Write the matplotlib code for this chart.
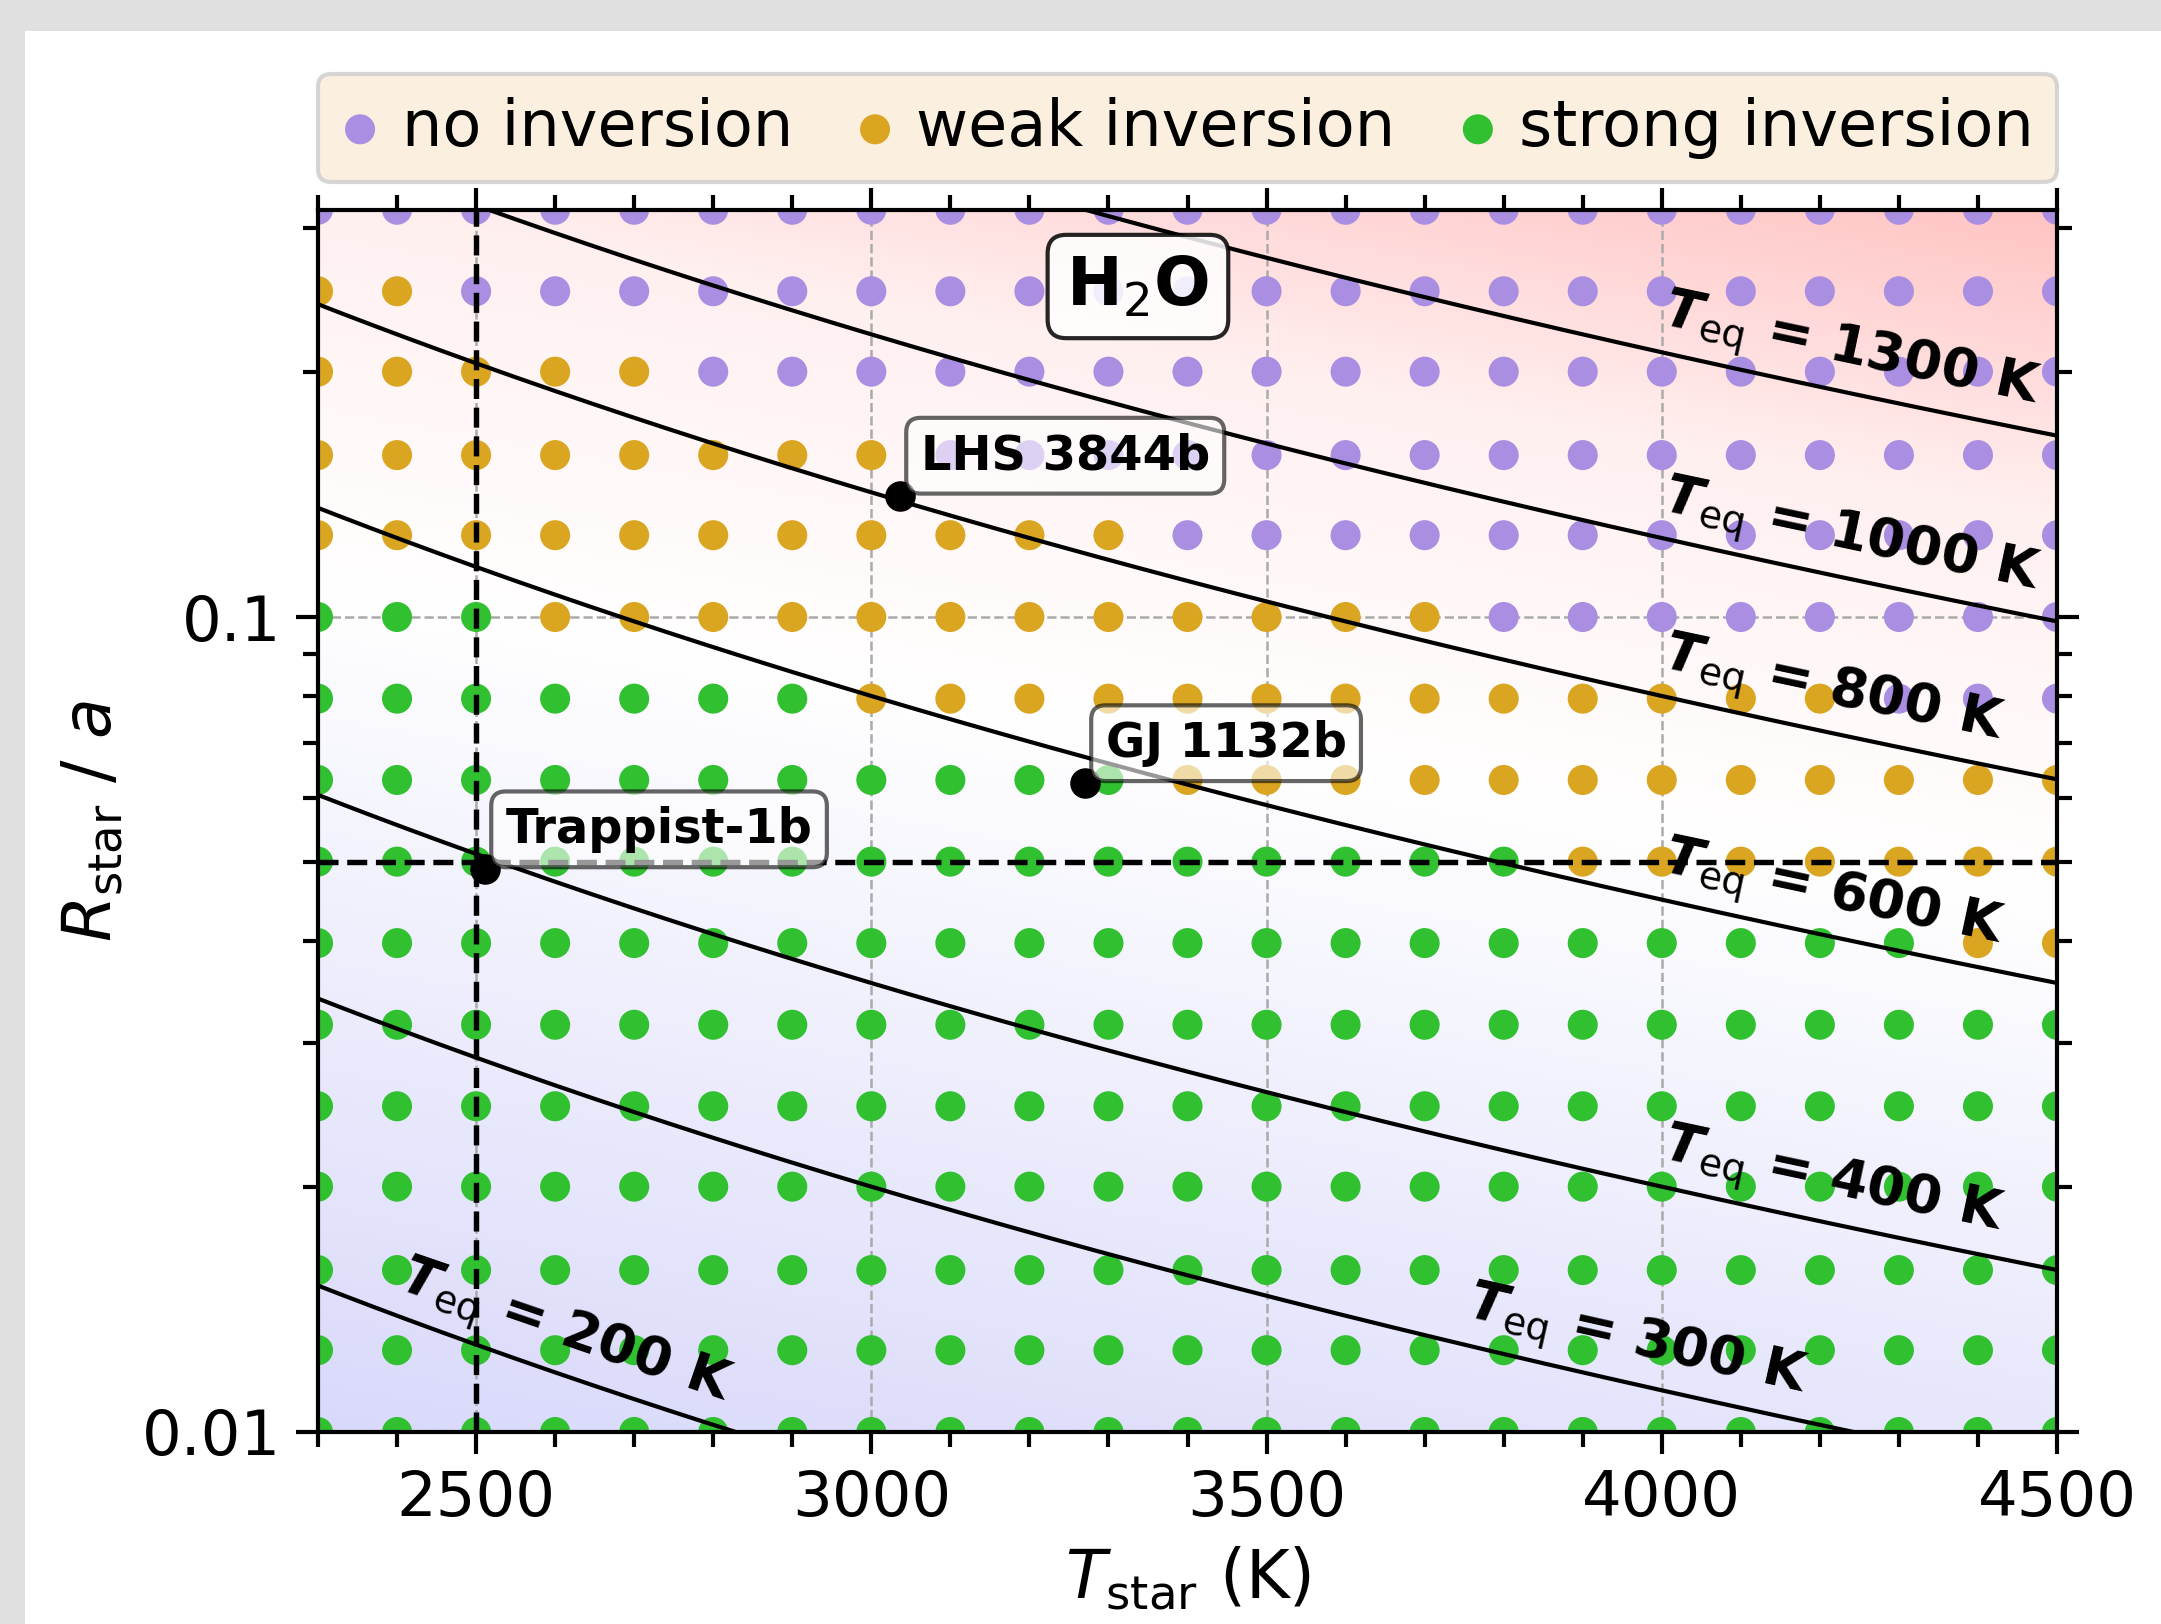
import numpy as np
import matplotlib.pyplot as plt
from matplotlib.colors import LinearSegmentedColormap
from matplotlib.patches import Rectangle
from matplotlib.ticker import MultipleLocator, LogLocator, FuncFormatter, NullFormatter

# grid of models
t_star = [2300, 2400, 2500, 2600, 2700, 2800, 2900, 3000, 3100, 3200, 3300, 3400,
          3500, 3600, 3700, 3800, 3900, 4000, 4100, 4200, 4300, 4400, 4500]
r_over_a = [0.01, 0.0126, 0.0158, 0.02, 0.0251, 0.0316, 0.0398, 0.0501,
            0.0631, 0.0794, 0.1, 0.126, 0.158, 0.2, 0.251, 0.316]

# n = no inversion, w = weak inversion, s = strong inversion (one string per R/a row, bottom to top)
regime = [
    "sssssssssssssssssssssss",
    "sssssssssssssssssssssss",
    "sssssssssssssssssssssss",
    "sssssssssssssssssssssss",
    "sssssssssssssssssssssss",
    "sssssssssssssssssssssss",
    "sssssssssssssssssssssww",
    "sssssssssssssssswwwwwww",
    "ssssssssssswwwwwwwwwwww",
    "ssssssswwwwwwwwwwwwwnnn",
    "ssswwwwwwwwwwwwnnnnnnnn",
    "wwwwwwwwwwwnnnnnnnnnnnn",
    "wwwwwwwwnnnnnnnnnnnnnnn",
    "wwwwwnnnnnnnnnnnnnnnnnn",
    "wwnnnnnnnnnnnnnnnnnnnnn",
    "nnnnnnnnnnnnnnnnnnnnnnn",
]

planet_names = ["Trappist-1b", "LHS 3844b", "GJ 1132b"]
planet_t = [2511, 3036, 3270]
planet_ra = [0.049, 0.1408, 0.0625]

teq_levels = [200, 300, 400, 600, 800, 1000, 1300]
teq_label_t = [2612, 3968, 4216, 4216, 4216, 4240, 4240]

styles = {
    "n": ("#a98ee1", "no inversion"),
    "w": ("#daa520", "weak inversion"),
    "s": ("#30c030", "strong inversion"),
}

W, H = 2161, 1624
fig = plt.figure(figsize=(W / 300, H / 300), dpi=300)
fig.patch.set_facecolor("#e0e0e0")
fig.add_artist(Rectangle((25 / W, 0), 1, 1 - 31 / H, transform=fig.transFigure,
                         facecolor="white", edgecolor="none", zorder=-10))

ax = fig.add_axes([318 / W, 1 - 1432 / H, (2057 - 318) / W, (1432 - 209.5) / H])
ax.set_yscale("log")

# background gradient
xx, yy = np.meshgrid(np.linspace(0, 1, 300), np.linspace(0, 1, 300))
v = 0.256 * xx + yy
cmap = LinearSegmentedColormap.from_list(
    "bg", [(0, "#d9d9fb"), (0.55, "#ffffff"), (0.8, "#fff0f0"), (1, "#ffc4c4")])
ax.imshow(v, extent=(0, 1, 0, 1), transform=ax.transAxes, origin="lower",
          cmap=cmap, vmin=0, vmax=1.256, aspect="auto", zorder=0, interpolation="bilinear")

# classification dots
for key in ["n", "w", "s"]:
    xs, ys = [], []
    for j, row in enumerate(regime):
        for i, c in enumerate(row):
            if c == key:
                xs.append(t_star[i])
                ys.append(r_over_a[j])
    ax.scatter(xs, ys, s=52, color=styles[key][0], edgecolors="none",
               label=styles[key][1], zorder=3)

ax.set_xlim(2300, 4500)
ax.set_ylim(0.01, 10 ** -0.5)

# equilibrium temperature curves
tt = np.linspace(2200, 4600, 400)
for lev, tl in zip(teq_levels, teq_label_t):
    ax.plot(tt, 2 * (lev / tt) ** 2, color="k", lw=1.0, zorder=4)
    yl = 2 * (lev / tl) ** 2
    p1 = ax.transData.transform((tl - 20, 2 * (lev / (tl - 20)) ** 2))
    p2 = ax.transData.transform((tl + 20, 2 * (lev / (tl + 20)) ** 2))
    ang = np.degrees(np.arctan2(p2[1] - p1[1], p2[0] - p1[0]))
    ax.annotate(r"$\mathbfit{T}_{\rm eq}$ = %d K" % lev, xy=(tl, yl), xytext=(0, 9.8),
                textcoords="offset points", rotation=ang, rotation_mode="anchor",
                ha="center", va="center", fontsize=13, fontweight="bold", zorder=6)

ax.axvline(2500, color="k", ls="--", lw=1.3, zorder=5)
ax.axhline(0.05, color="k", ls="--", lw=1.3, zorder=5)

# planets
ax.scatter(planet_t, planet_ra, s=40, color="k", zorder=7)
for name, t, ra in zip(planet_names, planet_t, planet_ra):
    ax.annotate(name, xy=(t, ra), xytext=(5, 4), textcoords="offset points",
                ha="left", va="bottom", fontsize=11.5, fontweight="bold", zorder=8,
                bbox=dict(boxstyle="round,pad=0.3", fc="w", ec="k", alpha=0.6, lw=1.0))

ax.text(0.4715, 0.937, "H$_2$O", transform=ax.transAxes, ha="center", va="center",
        fontsize=16, fontweight="bold", zorder=8,
        bbox=dict(boxstyle="round,pad=0.28", fc="w", ec="k", alpha=0.85, lw=1.0))

# axes styling
ax.xaxis.set_major_locator(MultipleLocator(500))
ax.xaxis.set_minor_locator(MultipleLocator(100))
ax.yaxis.set_major_locator(LogLocator(base=10))
ax.yaxis.set_minor_locator(LogLocator(base=10, subs=np.arange(2, 10)))
ax.yaxis.set_major_formatter(FuncFormatter(lambda val, pos: f"{val:g}"))
ax.yaxis.set_minor_formatter(NullFormatter())
ax.tick_params(which="both", direction="out", top=True, right=True, labelsize=15, width=1.0)
ax.tick_params(which="major", length=5.3)
ax.tick_params(which="minor", length=3.5)
for sp in ax.spines.values():
    sp.set_linewidth(1.0)
    sp.set_zorder(9)
ax.grid(True, which="major", color="#aaaaaa", ls="--", lw=0.6, zorder=1)
ax.set_axisbelow(False)

ax.set_xlabel(r"$T_{\rm star}$ (K)", fontsize=16)
ax.set_ylabel(r"$R_{\rm star}$ / $a$", fontsize=16)

ax.legend(loc="lower left", bbox_to_anchor=(0, 1.0225, 1, 0.08), mode="expand",
          borderaxespad=0, ncol=3, fontsize=15.3, facecolor="antiquewhite",
          framealpha=0.8, markerscale=1.0, handlelength=0.6, handletextpad=0.35,
          borderpad=0.36)

fig.savefig("out.png", dpi=300)
